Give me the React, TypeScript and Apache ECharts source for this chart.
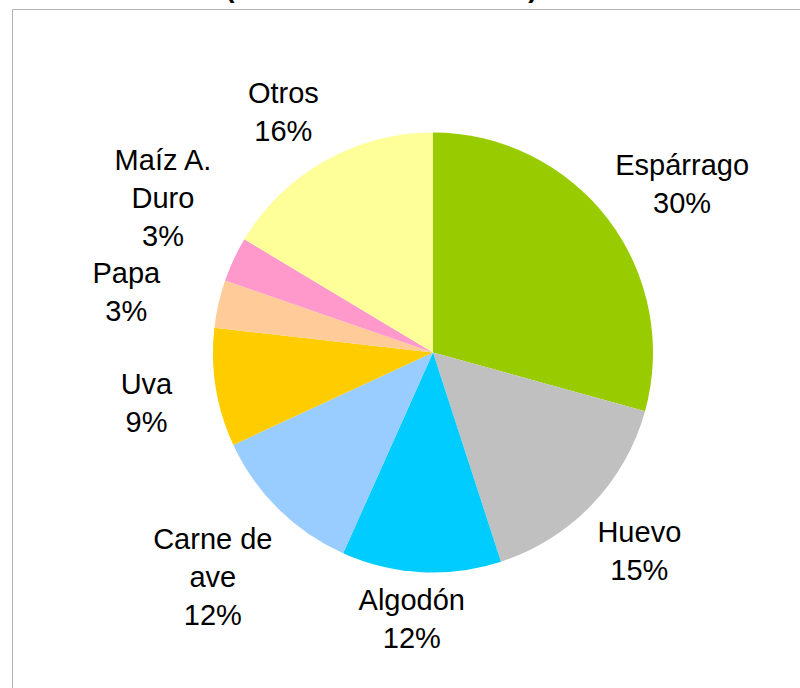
import React, { useEffect, useRef } from "react";
import * as echarts from "echarts";

const categories = ["Espárrago", "Huevo", "Algodón", "Carne de\nave", "Uva", "Papa", "Maíz A.\nDuro", "Otros"];
// slice shares as measured from the slice angles
const shares = [29.3, 15.7, 11.7, 11.4, 8.7, 3.5, 3.3, 16.4];
// percentages printed on the labels
const shareLabels = ["30%", "15%", "12%", "12%", "9%", "3%", "3%", "16%"];
const colors = ["#99CC00", "#C0C0C0", "#00CCFF", "#99CCFF", "#FFCC00", "#FFCC99", "#FF99CC", "#FFFF99"];
// label placement tweaks (like Excel's overlap avoidance): radial gap in px, angle shift in degrees
const labelGaps = [4, 10, 5, 12, 39, 52, 20, 12];
const labelShifts = [3.2, 0.2, 1.5, -0.2, -0.9, -1.7, 4.7, -2.4];

const CX = 433;
const CY = 352.5;
const R = 220;
const FONT = "'Liberation Sans', Arial, sans-serif";

export default function App() {
  const ref = useRef<HTMLDivElement>(null);
  useEffect(() => {
    const chart = echarts.init(ref.current!, null, { renderer: "svg" });
    const total = shares.reduce((a, b) => a + b, 0);
    const mids: number[] = [];
    let acc = 0;
    shares.forEach((v) => {
      mids.push(((acc + v / 2) / total) * Math.PI * 2);
      acc += v;
    });
    chart.setOption({
      animation: false,
      backgroundColor: "#ffffff",
      graphic: [
        {
          type: "line",
          shape: { x1: 12.5, y1: 9.5, x2: 800, y2: 9.5 },
          style: { stroke: "#b4b4b4", lineWidth: 1 },
          silent: true,
        },
        {
          type: "line",
          shape: { x1: 12.5, y1: 9.5, x2: 12.5, y2: 688 },
          style: { stroke: "#b4b4b4", lineWidth: 1 },
          silent: true,
        },
        {
          type: "text",
          x: 230,
          y: -13,
          style: { text: "(", font: `bold 28px ${FONT}`, fill: "#000", align: "center", verticalAlign: "middle" },
        },
        {
          type: "text",
          x: 533,
          y: -13,
          style: { text: ")", font: `bold 28px ${FONT}`, fill: "#000", align: "center", verticalAlign: "middle" },
        },
      ],
      series: [
        {
          type: "pie",
          center: [CX, CY],
          radius: R,
          startAngle: 90,
          clockwise: true,
          avoidLabelOverlap: false,
          silent: true,
          itemStyle: { borderWidth: 0 },
          data: categories.map((name, i) => ({ name, value: shares[i], itemStyle: { color: colors[i] } })),
          label: {
            show: true,
            position: "outside",
            formatter: (p: any) => `${p.name}\n${shareLabels[p.dataIndex]}`,
            fontFamily: FONT,
            fontSize: 29,
            lineHeight: 38,
            color: "#000",
          },
          labelLine: { show: false },
          labelLayout: (params: any) => {
            const i = params.dataIndex;
            const a = mids[i] + (labelShifts[i] * Math.PI) / 180;
            const dx = Math.sin(a);
            const dy = -Math.cos(a);
            const w = params.labelRect.width;
            const h = params.labelRect.height;
            const support = (Math.abs(dx) * w) / 2 + (Math.abs(dy) * h) / 2;
            const d = R + labelGaps[i] + support;
            return { x: CX + dx * d, y: CY + dy * d, align: "center", verticalAlign: "middle" };
          },
        },
      ],
    });
    return () => chart.dispose();
  }, []);
  return <div ref={ref} style={{ position: "fixed", left: 0, top: 0, width: 800, height: 688 }} />;
}
